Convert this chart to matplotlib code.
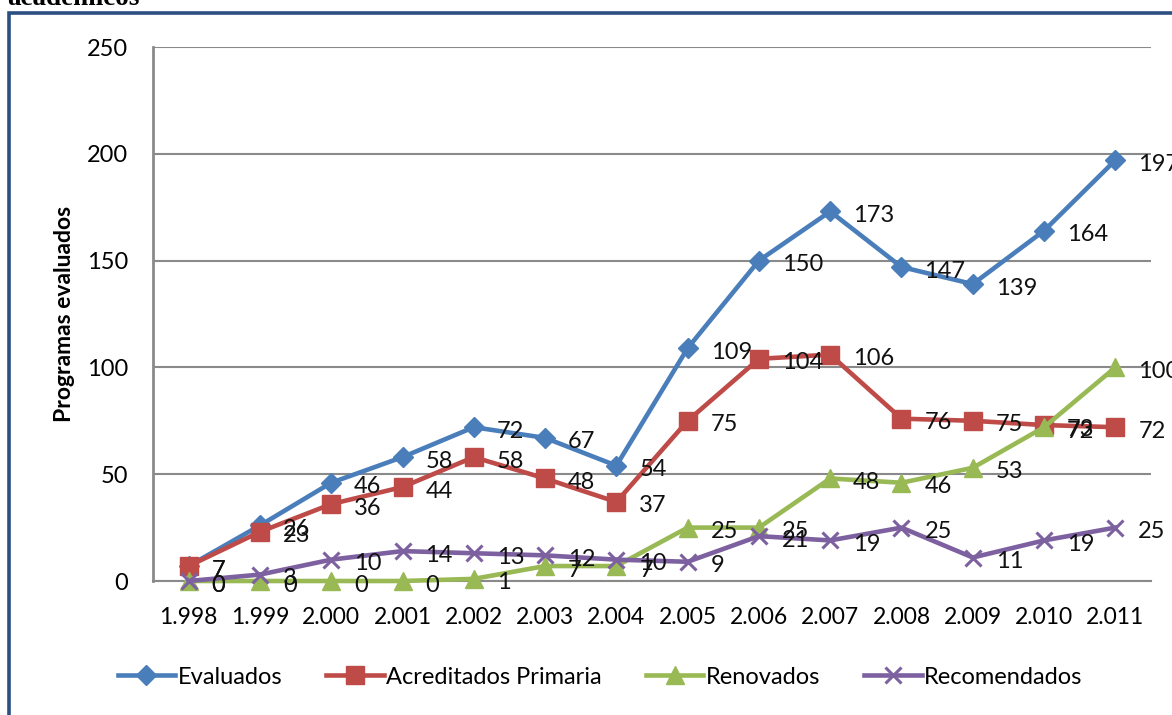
import matplotlib
matplotlib.use("Agg")
import matplotlib.pyplot as plt
from matplotlib.patches import Rectangle

years = ["1.998", "1.999", "2.000", "2.001", "2.002", "2.003", "2.004",
         "2.005", "2.006", "2.007", "2.008", "2.009", "2.010", "2.011"]
evaluados = [7, 26, 46, 58, 72, 67, 54, 109, 150, 173, 147, 139, 164, 197]
acreditados = [7, 23, 36, 44, 58, 48, 37, 75, 104, 106, 76, 75, 73, 72]
renovados = [0, 0, 0, 0, 1, 7, 7, 25, 25, 48, 46, 53, 72, 100]
recomendados = [0, 3, 10, 14, 13, 12, 10, 9, 21, 19, 25, 11, 19, 25]
series_names = ["Evaluados", "Acreditados Primaria", "Renovados", "Recomendados"]
yticks = [0, 50, 100, 150, 200, 250]

plt.rcParams['font.family'] = ['Lato', 'DejaVu Sans']

W, H = 1172, 715
fig = plt.figure(figsize=(W / 100, H / 100), dpi=100)

# Outer chart border (dark blue)
fig.patches.append(Rectangle((9 / W, -0.05), 1.2, 1 - 13 / H + 0.05,
                             transform=fig.transFigure, fill=False,
                             edgecolor='#2B4F81', linewidth=2.6, zorder=0))
# Cut-off title
fig.text(7 / W, 1 - 5 / H, "académicos", family='Liberation Serif',
         fontweight='bold', fontsize=19.5, va='baseline', ha='left', color='black')

ax = fig.add_axes([153 / W, 1 - 581 / H, 998 / W, 534 / H])
x = list(range(len(years)))

styles = [
    (evaluados, '#4A7EBB', 'D', 10.5, dict()),
    (acreditados, '#BE4B48', 's', 13, dict()),
    (renovados, '#98B954', '^', 13, dict()),
    (recomendados, '#7D60A0', 'x', 12, dict(markeredgewidth=2.2)),
]
for (vals, col, mk, ms, extra), name in zip(styles, series_names):
    ax.plot(x, vals, color=col, linewidth=3.3, marker=mk, markersize=ms,
            markerfacecolor=col, markeredgecolor=col, label=name,
            clip_on=False, zorder=3, **extra)
    for xi, v in zip(x, vals):
        ax.annotate(str(v), (xi, v), xytext=(23, -4), textcoords='offset pixels',
                    ha='left', va='center', fontsize=17, color='#111111',
                    annotation_clip=False, zorder=4)

ax.set_xlim(-0.5, len(years) - 0.5)
ax.set_ylim(0, 250)
ax.set_yticks(yticks)
ax.set_xticks(x)
ax.set_xticklabels(years)
ax.tick_params(axis='y', length=0, labelsize=17, colors='black', pad=18)
ax.tick_params(axis='x', length=0, labelsize=16.5, colors='black', pad=19)
ax.grid(axis='y', color='#8A8A8A', linewidth=1.5, zorder=0)
for s in ['top', 'right']:
    ax.spines[s].set_visible(False)
ax.spines['left'].set_color('#8A8A8A')
ax.spines['left'].set_linewidth(2)
ax.spines['bottom'].set_color('#8A8A8A')
ax.spines['bottom'].set_linewidth(1.5)
ax.set_ylabel("Programas evaluados", fontsize=16.5, fontweight='bold')
ax.yaxis.set_label_coords(-0.078, 0.5)

leg = fig.legend(loc='center', bbox_to_anchor=(600 / W, 1 - 677 / H), ncol=4,
                 frameon=False, fontsize=17, handlelength=2.45, columnspacing=1.85,
                 handletextpad=0.1)

fig.savefig("out.png", dpi=100)
